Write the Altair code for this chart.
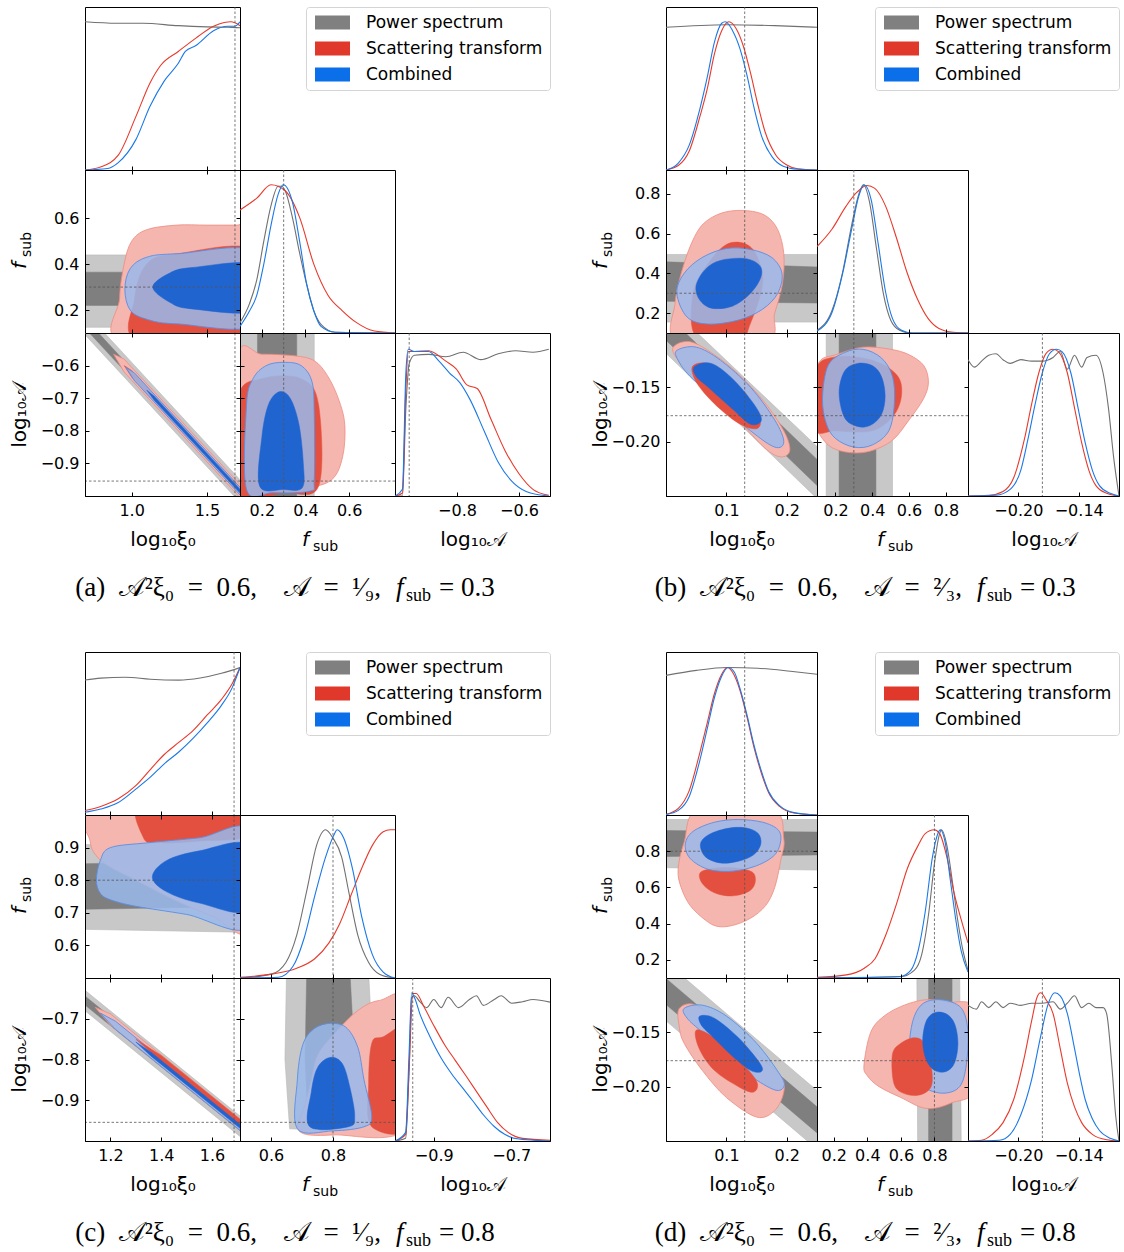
import altair as alt
import pandas as pd

FONT = "DejaVu Sans"
SERIF = "Liberation Serif"
SA = "\U0001D49C"  # script A
T_XI = "log\u2081\u2080\u03be\u2080"
T_LA = "log\u2081\u2080" + SA

GRAY_OUT, GRAY_IN = "#c8c8c8", "#7f7f7f"
RED_OUT, RED_IN = "#f4b6ae", "#e4503f"
BLUE_OUT, BLUE_IN = "#99b8eb", "#2064d0"
LINE_PS, LINE_ST, LINE_CO = "#707070", "#e8392b", "#1a78e8"
LEGEND_LABELS = ["Power spectrum", "Scattering transform", "Combined"]
LEGEND_COLORS = ["#808080", "#e0392b", "#0a6fe8"]
Y1D = [0.0, 1.1]

# ---------------- corner (a) ----------------
A_DOM = {"xi": [0.69, 1.72], "f": [0.10, 0.81], "la": [-1.00, -0.50]}
A_TICKS = {"xi": [1.0, 1.5], "f_y": [0.2, 0.4, 0.6], "f_x": [0.2, 0.4, 0.6],
           "la_y": [-0.6, -0.7, -0.8, -0.9], "la_x": [-0.8, -0.6]}
A_FMT = {"xi": ".1f", "f": ".1f", "la": ".1f"}
A_TRUTH = {"xi": 1.6866, "f": 0.3, "la": -0.9542}
A_XI_1D = {
    "ps": [(0.69, 1.0), (0.9, 0.99), (1.075, 0.99), (1.31, 0.974), (1.5, 0.966), (1.638, 0.963), (1.72, 0.96)],
    "st": [(0.69, 0.0), (0.793, 0.02), (0.911, 0.10), (1.028, 0.36), (1.122, 0.587), (1.192, 0.705), (1.31, 0.80),
           (1.427, 0.89), (1.544, 0.97), (1.615, 0.995), (1.66, 1.0), (1.72, 0.974)],
    "co": [(0.69, 0.0), (0.84, 0.01), (0.911, 0.05), (1.028, 0.205), (1.122, 0.43), (1.216, 0.60), (1.31, 0.72),
           (1.357, 0.80), (1.427, 0.84), (1.544, 0.94), (1.638, 0.97), (1.685, 0.97), (1.72, 1.0)],
}
A_F_1D = {
    "ps": [(0.1, 0.07), (0.144, 0.2), (0.177, 0.36), (0.209, 0.62), (0.242, 0.86), (0.275, 0.99), (0.29, 0.99),
           (0.307, 0.96), (0.34, 0.78), (0.373, 0.54), (0.405, 0.33), (0.438, 0.15), (0.471, 0.058), (0.536, 0.005),
           (0.81, 0.0)],
    "st": [(0.1, 0.83), (0.177, 0.91), (0.242, 1.0), (0.307, 0.96), (0.373, 0.78), (0.438, 0.465), (0.503, 0.255),
           (0.569, 0.15), (0.634, 0.07), (0.716, 0.013), (0.81, 0.0)],
    "co": [(0.1, 0.045), (0.144, 0.15), (0.177, 0.255), (0.209, 0.465), (0.242, 0.727), (0.275, 0.937), (0.298, 1.0),
           (0.34, 0.885), (0.373, 0.62), (0.405, 0.333), (0.438, 0.15), (0.471, 0.045), (0.536, 0.005), (0.81, 0.0)],
}
A_LA_1D = {
    "ps": [(-1.0, 0.0), (-0.976, 0.0), (-0.965, 0.59), (-0.954, 0.895), (-0.937, 0.95), (-0.892, 0.956),
           (-0.836, 0.94), (-0.78, 0.97), (-0.723, 0.92), (-0.667, 0.96), (-0.611, 0.98), (-0.555, 0.97),
           (-0.504, 0.99)],
    "st": [(-1.0, 0.0), (-0.976, 0.02), (-0.965, 0.725), (-0.957, 0.975), (-0.937, 0.975), (-0.892, 0.98),
           (-0.836, 0.91), (-0.802, 0.856), (-0.768, 0.75), (-0.735, 0.725), (-0.69, 0.516), (-0.645, 0.306),
           (-0.6, 0.15), (-0.555, 0.045), (-0.504, 0.005)],
    "co": [(-1.0, 0.0), (-0.976, 0.045), (-0.965, 0.83), (-0.957, 0.99), (-0.937, 0.975), (-0.892, 0.975),
           (-0.858, 0.91), (-0.824, 0.83), (-0.791, 0.765), (-0.757, 0.647), (-0.712, 0.437), (-0.667, 0.228),
           (-0.622, 0.097), (-0.577, 0.031), (-0.504, 0.0)],
}
A_XF_2D = {
    "g1": [(0.6, 0.125), (1.8, 0.125), (1.8, 0.44), (0.6, 0.44)],
    "g2": [(0.6, 0.22), (1.8, 0.22), (1.8, 0.365), (0.6, 0.365)],
    "r1": [(0.935, 0.06), (0.92, 0.25), (0.95, 0.40), (1.0, 0.50), (1.1, 0.55), (1.3, 0.57), (1.5, 0.57),
           (1.7, 0.57), (1.85, 0.57), (1.85, 0.06)],
    "r2": [(1.05, 0.06), (1.02, 0.25), (1.1, 0.40), (1.3, 0.445), (1.85, 0.45), (1.85, 0.06)],
    "b1": [(0.955, 0.29), (0.99, 0.38), (1.1, 0.43), (1.3, 0.445), (1.85, 0.45), (1.85, 0.14), (1.3, 0.14),
           (1.1, 0.16), (0.99, 0.2)],
    "b2": [(1.14, 0.30), (1.25, 0.36), (1.4, 0.385), (1.85, 0.395), (1.85, 0.2), (1.4, 0.205), (1.25, 0.235)],
}
A_XA_2D = {
    "g1": [(0.6, -0.39), (1.8, -0.99), (1.8, -1.06), (0.6, -0.46)],
    "g2": [(0.6, -0.41), (1.8, -1.01), (1.8, -1.04), (0.6, -0.44)],
    "r1": [(0.88, -0.565), (0.95, -0.58), (1.8, -1.005), (1.8, -1.045), (0.95, -0.62)],
    "r2": [(0.95, -0.6), (1.0, -0.615), (1.8, -1.015), (1.8, -1.035), (1.0, -0.635)],
    "b1": [(0.96, -0.605), (1.02, -0.623), (1.8, -1.013), (1.8, -1.037), (1.02, -0.647)],
    "b2": [(1.1, -0.675), (1.15, -0.694), (1.8, -1.019), (1.8, -1.031), (1.15, -0.706)],
}
A_FA_2D = {
    "g1": [(0.105, -0.49), (0.44, -0.49), (0.44, -1.01), (0.105, -1.01)],
    "g2": [(0.18, -0.49), (0.36, -0.49), (0.36, -1.0), (0.18, -1.0)],
    "r1": [(0.09, -0.97), (0.09, -0.57), (0.2, -0.565), (0.35, -0.57), (0.44, -0.585), (0.5, -0.63), (0.55, -0.7),
           (0.58, -0.78), (0.57, -0.88), (0.52, -0.95), (0.4, -0.975), (0.2, -0.98)],
    "r2": [(0.09, -0.99), (0.09, -0.70), (0.2, -0.64), (0.38, -0.64), (0.46, -0.72), (0.46, -0.97), (0.3, -0.99)],
    "b1": [(0.13, -0.98), (0.13, -0.72), (0.16, -0.64), (0.22, -0.6), (0.3, -0.59), (0.38, -0.6), (0.43, -0.65),
           (0.44, -0.75), (0.44, -0.95), (0.42, -0.985), (0.25, -0.99)],
    "b2": [(0.19, -0.97), (0.2, -0.82), (0.23, -0.72), (0.28, -0.68), (0.33, -0.7), (0.37, -0.78), (0.39, -0.9),
           (0.385, -0.975), (0.3, -0.98)],
}

# ---------------- corner (b) ----------------
B_DOM = {"xi": [0.0, 0.25], "f": [0.10, 0.92], "la": [-0.25, -0.10]}
B_TICKS = {"xi": [0.1, 0.2], "f_y": [0.2, 0.4, 0.6, 0.8], "f_x": [0.2, 0.4, 0.6, 0.8],
           "la_y": [-0.15, -0.20], "la_x": [-0.20, -0.14]}
B_FMT = {"xi": ".1f", "f": ".1f", "la": ".2f"}
B_TRUTH = {"xi": 0.1303, "f": 0.3, "la": -0.1761}
B_XI_1D = {
    "ps": [(0.0, 0.963), (0.1, 0.98), (0.18, 0.974), (0.25, 0.963)],
    "st": [(0.0, 0.0), (0.0204, 0.03), (0.0383, 0.126), (0.0563, 0.363), (0.0683, 0.547), (0.0802, 0.784),
           (0.0922, 0.94), (0.1042, 1.0), (0.116, 0.955), (0.128, 0.837), (0.14, 0.653), (0.152, 0.442),
           (0.164, 0.258), (0.182, 0.1), (0.2, 0.034), (0.218, 0.008), (0.25, 0.0)],
    "co": [(0.0, 0.0), (0.0204, 0.047), (0.0383, 0.166), (0.0563, 0.416), (0.0683, 0.626), (0.0802, 0.863),
           (0.0922, 0.99), (0.0982, 1.0), (0.110, 0.942), (0.122, 0.824), (0.134, 0.64), (0.146, 0.416),
           (0.158, 0.232), (0.176, 0.087), (0.194, 0.026), (0.218, 0.005), (0.25, 0.0)],
}
B_F_1D = {
    "ps": [(0.1, 0.018), (0.181, 0.15), (0.239, 0.41), (0.288, 0.727), (0.327, 0.937), (0.352, 1.0),
           (0.385, 0.885), (0.423, 0.57), (0.462, 0.255), (0.501, 0.084), (0.549, 0.018), (0.607, 0.0), (0.92, 0.0)],
    "st": [(0.1, 0.583), (0.181, 0.70), (0.259, 0.858), (0.317, 0.95), (0.371, 0.995), (0.414, 0.976),
           (0.472, 0.858), (0.53, 0.648), (0.588, 0.412), (0.646, 0.228), (0.704, 0.097), (0.762, 0.031),
           (0.84, 0.005), (0.92, 0.0)],
    "co": [(0.1, 0.013), (0.181, 0.137), (0.239, 0.40), (0.288, 0.70), (0.327, 0.924), (0.356, 1.0), (0.394, 0.9),
           (0.433, 0.596), (0.472, 0.28), (0.51, 0.097), (0.559, 0.018), (0.617, 0.0), (0.92, 0.0)],
}
B_LA_1D = {
    "ps": [(-0.25, 0.92), (-0.2436, 0.87), (-0.2365, 0.91), (-0.2294, 0.95), (-0.2223, 0.96), (-0.2152, 0.92),
           (-0.2081, 0.895), (-0.1975, 0.92), (-0.1868, 0.91), (-0.1762, 0.91), (-0.1655, 0.935), (-0.1584, 0.975),
           (-0.1513, 0.856), (-0.1442, 0.95), (-0.1371, 0.87), (-0.1318, 0.935), (-0.1229, 0.95), (-0.1158, 0.83),
           (-0.1105, 0.595), (-0.1052, 0.254), (-0.10, 0.0)],
    "st": [(-0.25, 0.0), (-0.2294, 0.005), (-0.2152, 0.031), (-0.2046, 0.123), (-0.1939, 0.385), (-0.1868, 0.62),
           (-0.1797, 0.83), (-0.1726, 0.961), (-0.1655, 0.99), (-0.1602, 0.974), (-0.1513, 0.83), (-0.1442, 0.595),
           (-0.1371, 0.36), (-0.13, 0.175), (-0.1229, 0.07), (-0.1123, 0.018), (-0.10, 0.0)],
    "co": [(-0.25, 0.0), (-0.2223, 0.005), (-0.2081, 0.045), (-0.1975, 0.175), (-0.1904, 0.385), (-0.1833, 0.62),
           (-0.1762, 0.83), (-0.1691, 0.96), (-0.162, 0.99), (-0.1566, 0.974), (-0.1478, 0.83), (-0.1407, 0.595),
           (-0.1336, 0.36), (-0.1265, 0.175), (-0.1194, 0.07), (-0.1087, 0.018), (-0.10, 0.0)],
}
B_XF_2D = {
    "g1": [(-0.02, 0.155), (0.27, 0.155), (0.27, 0.495), (-0.02, 0.495)],
    "g2": [(-0.02, 0.26), (0.27, 0.25), (0.27, 0.43), (-0.02, 0.46)],
    "r1": [(0.02, 0.06), (0.015, 0.25), (0.03, 0.45), (0.05, 0.6), (0.07, 0.67), (0.1, 0.71), (0.135, 0.715),
           (0.165, 0.69), (0.185, 0.62), (0.195, 0.5), (0.193, 0.35), (0.18, 0.2), (0.165, 0.06)],
    "r2": [(0.05, 0.08), (0.045, 0.3), (0.07, 0.45), (0.1, 0.545), (0.13, 0.55), (0.15, 0.49), (0.16, 0.35),
           (0.14, 0.15), (0.12, 0.06)],
    "b1": [(0.018, 0.3), (0.03, 0.4), (0.06, 0.48), (0.1, 0.525), (0.14, 0.52), (0.175, 0.48), (0.192, 0.4),
           (0.185, 0.3), (0.16, 0.22), (0.12, 0.165), (0.07, 0.145), (0.035, 0.18)],
    "b2": [(0.05, 0.34), (0.065, 0.42), (0.09, 0.465), (0.13, 0.475), (0.155, 0.44), (0.157, 0.38), (0.14, 0.3),
           (0.11, 0.235), (0.075, 0.225), (0.055, 0.27)],
}
B_XA_2D = {
    "g1": [(-0.02, -0.062), (0.27, -0.215), (0.27, -0.263), (-0.02, -0.108)],
    "g2": [(-0.02, -0.072), (0.27, -0.227), (0.27, -0.251), (-0.02, -0.096)],
    "r1": [(0.012, -0.113), (0.04, -0.108), (0.08, -0.12), (0.12, -0.138), (0.162, -0.163), (0.195, -0.19),
           (0.205, -0.208), (0.19, -0.214), (0.162, -0.205), (0.108, -0.173), (0.053, -0.145), (0.02, -0.125)],
    "r2": [(0.045, -0.13), (0.08, -0.13), (0.13, -0.155), (0.155, -0.178), (0.15, -0.188), (0.12, -0.183),
           (0.08, -0.165), (0.05, -0.145)],
    "b1": [(0.018, -0.116), (0.05, -0.113), (0.09, -0.125), (0.14, -0.15), (0.18, -0.18), (0.195, -0.2),
           (0.18, -0.205), (0.14, -0.19), (0.09, -0.165), (0.04, -0.14), (0.02, -0.125)],
    "b2": [(0.047, -0.131), (0.075, -0.128), (0.11, -0.142), (0.145, -0.165), (0.158, -0.18), (0.14, -0.184),
           (0.11, -0.17), (0.07, -0.15), (0.05, -0.14)],
}
B_FA_2D = {
    "g1": [(0.15, -0.09), (0.51, -0.09), (0.51, -0.26), (0.15, -0.26)],
    "g2": [(0.22, -0.09), (0.42, -0.09), (0.42, -0.26), (0.22, -0.26)],
    "r1": [(0.09, -0.14), (0.12, -0.125), (0.2, -0.12), (0.35, -0.113), (0.5, -0.115), (0.6, -0.12),
           (0.68, -0.13), (0.705, -0.145), (0.68, -0.16), (0.6, -0.18), (0.5, -0.2), (0.35, -0.21), (0.2, -0.207),
           (0.12, -0.195), (0.09, -0.18)],
    "r2": [(0.09, -0.135), (0.2, -0.122), (0.4, -0.125), (0.53, -0.138), (0.56, -0.155), (0.52, -0.175),
           (0.4, -0.19), (0.2, -0.19), (0.09, -0.188)],
    "b1": [(0.13, -0.16), (0.16, -0.13), (0.25, -0.118), (0.35, -0.115), (0.45, -0.123), (0.51, -0.14),
           (0.52, -0.165), (0.49, -0.19), (0.4, -0.203), (0.3, -0.205), (0.2, -0.197), (0.15, -0.183)],
    "b2": [(0.22, -0.155), (0.25, -0.135), (0.32, -0.128), (0.4, -0.13), (0.45, -0.14), (0.47, -0.158),
           (0.45, -0.175), (0.39, -0.185), (0.32, -0.186), (0.25, -0.178)],
}

# ---------------- corner (c) ----------------
C_DOM = {"xi": [1.10, 1.71], "f": [0.50, 1.00], "la": [-1.00, -0.60]}
C_TICKS = {"xi": [1.2, 1.4, 1.6], "f_y": [0.6, 0.7, 0.8, 0.9], "f_x": [0.6, 0.8],
           "la_y": [-0.7, -0.8, -0.9], "la_x": [-0.9, -0.7]}
C_FMT = {"xi": ".1f", "f": ".1f", "la": ".1f"}
C_TRUTH = {"xi": 1.6866, "f": 0.8, "la": -0.9542}
C_XI_1D = {
    "ps": [(1.1, 0.911), (1.1615, 0.924), (1.259, 0.93), (1.357, 0.916), (1.469, 0.91), (1.553, 0.924),
           (1.637, 0.956), (1.71, 0.995)],
    "st": [(1.1, 0.03), (1.1615, 0.058), (1.231, 0.11), (1.301, 0.2), (1.357, 0.307), (1.413, 0.41), (1.469, 0.49),
           (1.525, 0.57), (1.581, 0.675), (1.637, 0.78), (1.679, 0.885), (1.71, 0.995)],
    "co": [(1.1, 0.018), (1.1615, 0.04), (1.231, 0.084), (1.301, 0.176), (1.357, 0.255), (1.413, 0.347),
           (1.469, 0.425), (1.525, 0.517), (1.581, 0.622), (1.637, 0.74), (1.679, 0.858), (1.71, 0.995)],
}
C_F_1D = {
    "ps": [(0.5, 0.0), (0.601, 0.026), (0.648, 0.105), (0.683, 0.29), (0.717, 0.605), (0.747, 0.895), (0.776, 1.0),
           (0.799, 0.947), (0.828, 0.816), (0.851, 0.58), (0.88, 0.29), (0.915, 0.105), (0.95, 0.026), (1.0, 0.0)],
    "st": [(0.5, 0.005), (0.601, 0.026), (0.683, 0.066), (0.741, 0.13), (0.787, 0.237), (0.822, 0.368),
           (0.857, 0.553), (0.892, 0.737), (0.927, 0.895), (0.962, 0.987), (0.985, 1.0), (1.0, 1.0)],
    "co": [(0.5, 0.0), (0.624, 0.005), (0.671, 0.079), (0.706, 0.263), (0.741, 0.553), (0.776, 0.816),
           (0.805, 0.974), (0.813, 1.0), (0.834, 0.947), (0.863, 0.737), (0.892, 0.42), (0.927, 0.158),
           (0.962, 0.04), (1.0, 0.0)],
}
C_LA_1D = {
    "ps": [(-1.0, 0.0), (-0.9726, 0.018), (-0.9635, 0.49), (-0.957, 0.97), (-0.95, 0.98), (-0.936, 0.94),
           (-0.918, 0.9), (-0.9, 0.955), (-0.881, 0.9), (-0.863, 0.97), (-0.836, 0.9), (-0.808, 0.955),
           (-0.79, 0.98), (-0.772, 0.915), (-0.744, 0.955), (-0.726, 0.98), (-0.699, 0.93), (-0.671, 0.94),
           (-0.644, 0.955), (-0.6, 0.937)],
    "st": [(-1.0, 0.0), (-0.9726, 0.045), (-0.9635, 0.49), (-0.954, 0.995), (-0.945, 0.995), (-0.927, 0.915),
           (-0.9, 0.78), (-0.872, 0.65), (-0.845, 0.546), (-0.817, 0.44), (-0.79, 0.335), (-0.763, 0.23),
           (-0.735, 0.124), (-0.708, 0.058), (-0.671, 0.018), (-0.6, 0.005)],
    "co": [(-1.0, 0.0), (-0.9726, 0.058), (-0.9635, 0.6), (-0.957, 1.0), (-0.95, 0.97), (-0.936, 0.86),
           (-0.909, 0.70), (-0.881, 0.56), (-0.854, 0.454), (-0.826, 0.36), (-0.799, 0.27), (-0.772, 0.177),
           (-0.744, 0.098), (-0.717, 0.045), (-0.68, 0.013), (-0.6, 0.0)],
}
C_XF_2D = {
    "g1": [(1.05, 0.91), (1.4, 0.905), (1.75, 0.915), (1.75, 0.64), (1.4, 0.645), (1.05, 0.65)],
    "g2": [(1.05, 0.85), (1.75, 0.86), (1.75, 0.72), (1.05, 0.71)],
    "r1": [(1.12, 1.05), (1.12, 0.92), (1.15, 0.87), (1.2, 0.84), (1.3, 0.8), (1.45, 0.74), (1.6, 0.69),
           (1.75, 0.655), (1.75, 1.05)],
    "r2": [(1.33, 1.05), (1.33, 0.93), (1.4, 0.915), (1.55, 0.92), (1.75, 0.94), (1.75, 1.05)],
    "b1": [(1.145, 0.80), (1.16, 0.86), (1.2, 0.9), (1.35, 0.915), (1.55, 0.93), (1.75, 0.95), (1.75, 0.66),
           (1.5, 0.695), (1.3, 0.72), (1.2, 0.74), (1.16, 0.76)],
    "b2": [(1.365, 0.81), (1.42, 0.86), (1.55, 0.89), (1.75, 0.905), (1.75, 0.71), (1.55, 0.73), (1.42, 0.765)],
}
C_XA_2D = {
    "g1": [(1.05, -0.605), (1.75, -0.959), (1.75, -1.009), (1.05, -0.655)],
    "g2": [(1.05, -0.619), (1.75, -0.973), (1.75, -0.995), (1.05, -0.641)],
    "r1": [(1.14, -0.672), (1.2, -0.688), (1.75, -0.966), (1.75, -0.994), (1.2, -0.716)],
    "r2": [(1.3, -0.75), (1.4, -0.79), (1.75, -0.967), (1.75, -0.981), (1.4, -0.804)],
    "b1": [(1.16, -0.686), (1.22, -0.706), (1.75, -0.974), (1.75, -0.994), (1.22, -0.726)],
    "b2": [(1.3, -0.757), (1.36, -0.782), (1.75, -0.979), (1.75, -0.989), (1.36, -0.792)],
}
C_FA_2D = {
    "g1": [(0.65, -0.59), (0.915, -0.59), (0.93, -0.8), (0.92, -0.96), (0.8, -0.975), (0.66, -0.97), (0.645, -0.8)],
    "g2": [(0.715, -0.59), (0.855, -0.59), (0.87, -0.8), (0.86, -0.96), (0.72, -0.96), (0.71, -0.8)],
    "r1": [(1.05, -0.66), (0.95, -0.655), (0.88, -0.68), (0.8, -0.74), (0.75, -0.79), (0.73, -0.85), (0.71, -0.91),
           (0.69, -0.975), (0.8, -0.985), (1.05, -0.96)],
    "r2": [(0.925, -0.76), (0.96, -0.745), (1.05, -0.73), (1.05, -0.96), (0.925, -0.965), (0.915, -0.86)],
    "b1": [(0.685, -0.97), (0.685, -0.85), (0.7, -0.77), (0.73, -0.73), (0.78, -0.712), (0.84, -0.72),
           (0.88, -0.77), (0.9, -0.85), (0.925, -0.94), (0.9, -0.965), (0.8, -0.975)],
    "b2": [(0.725, -0.965), (0.73, -0.88), (0.75, -0.82), (0.79, -0.795), (0.83, -0.81), (0.855, -0.87),
           (0.87, -0.94), (0.85, -0.965)],
}

# ---------------- corner (d) ----------------
D_DOM = {"xi": [0.0, 0.25], "f": [0.10, 1.00], "la": [-0.25, -0.10]}
D_TICKS = {"xi": [0.1, 0.2], "f_y": [0.2, 0.4, 0.6, 0.8], "f_x": [0.2, 0.4, 0.6, 0.8],
           "la_y": [-0.15, -0.20], "la_x": [-0.20, -0.14]}
D_FMT = {"xi": ".1f", "f": ".1f", "la": ".2f"}
D_TRUTH = {"xi": 0.1303, "f": 0.8, "la": -0.1761}
D_XI_1D = {
    "ps": [(0.0, 0.942), (0.0503, 0.976), (0.1018, 0.995), (0.152, 0.99), (0.206, 0.97), (0.25, 0.95)],
    "st": [(0.0, 0.005), (0.0204, 0.045), (0.0383, 0.163), (0.0563, 0.425), (0.0683, 0.622), (0.0802, 0.82),
           (0.0922, 0.95), (0.1012, 0.995), (0.1102, 0.963), (0.1222, 0.845), (0.1341, 0.66), (0.1461, 0.45),
           (0.1581, 0.28), (0.17, 0.15), (0.188, 0.058), (0.212, 0.013), (0.25, 0.0)],
    "co": [(0.0, 0.003), (0.0204, 0.031), (0.0383, 0.123), (0.0563, 0.373), (0.0683, 0.583), (0.0802, 0.793),
           (0.0922, 0.937), (0.103, 0.995), (0.1132, 0.963), (0.1222, 0.858), (0.1341, 0.675), (0.1461, 0.465),
           (0.1581, 0.294), (0.17, 0.158), (0.188, 0.063), (0.212, 0.016), (0.25, 0.0)],
}
D_F_1D = {
    "ps": [(0.1, 0.0), (0.596, 0.008), (0.681, 0.053), (0.724, 0.158), (0.767, 0.447), (0.799, 0.763),
           (0.831, 0.974), (0.841, 1.0), (0.874, 0.895), (0.906, 0.658), (0.938, 0.395), (0.97, 0.184), (1.0, 0.053)],
    "st": [(0.1, 0.005), (0.275, 0.021), (0.382, 0.066), (0.446, 0.13), (0.51, 0.29), (0.574, 0.5), (0.638, 0.737),
           (0.703, 0.895), (0.745, 0.974), (0.799, 1.0), (0.831, 0.974), (0.874, 0.816), (0.916, 0.58),
           (0.959, 0.395), (1.0, 0.237)],
    "co": [(0.1, 0.0), (0.596, 0.01), (0.66, 0.053), (0.703, 0.184), (0.745, 0.447), (0.788, 0.816), (0.82, 0.974),
           (0.835, 1.0), (0.863, 0.92), (0.895, 0.658), (0.927, 0.395), (0.959, 0.184), (1.0, 0.04)],
}
D_LA_1D = {
    "ps": [(-0.25, 0.915), (-0.2418, 0.89), (-0.2365, 0.94), (-0.2294, 0.9), (-0.2223, 0.94), (-0.2152, 0.9),
           (-0.2081, 0.93), (-0.1975, 0.915), (-0.1868, 0.93), (-0.1762, 0.93), (-0.1655, 0.94), (-0.1584, 0.89),
           (-0.1513, 0.93), (-0.1442, 0.98), (-0.1371, 0.9), (-0.13, 0.93), (-0.1229, 0.9), (-0.1158, 0.9),
           (-0.1123, 0.86), (-0.1069, 0.49), (-0.1034, 0.177), (-0.10, 0.0)],
    "st": [(-0.25, 0.0), (-0.2365, 0.005), (-0.2259, 0.045), (-0.2152, 0.124), (-0.2046, 0.28), (-0.1939, 0.57),
           (-0.1868, 0.81), (-0.1815, 0.968), (-0.1779, 1.0), (-0.1726, 0.955), (-0.1655, 0.86), (-0.1584, 0.625),
           (-0.1513, 0.39), (-0.1442, 0.23), (-0.1371, 0.124), (-0.1265, 0.045), (-0.1123, 0.008), (-0.10, 0.0)],
    "co": [(-0.25, 0.0), (-0.2188, 0.005), (-0.2081, 0.045), (-0.1975, 0.177), (-0.1868, 0.414), (-0.1779, 0.704),
           (-0.1708, 0.915), (-0.1637, 1.0), (-0.1584, 0.98), (-0.1513, 0.86), (-0.1442, 0.625), (-0.1389, 0.44),
           (-0.1336, 0.28), (-0.1265, 0.15), (-0.1194, 0.071), (-0.1087, 0.018), (-0.10, 0.0)],
}
D_XF_2D = {
    "g1": [(-0.02, 0.975), (0.27, 0.975), (0.27, 0.695), (-0.02, 0.71)],
    "g2": [(-0.02, 0.915), (0.27, 0.905), (0.27, 0.78), (-0.02, 0.77)],
    "r1": [(0.055, 1.04), (0.03, 0.85), (0.02, 0.7), (0.025, 0.6), (0.04, 0.5), (0.065, 0.42), (0.085, 0.385),
           (0.11, 0.39), (0.14, 0.43), (0.165, 0.5), (0.18, 0.6), (0.19, 0.75), (0.195, 0.87), (0.175, 1.04)],
    "r2": [(0.06, 0.69), (0.057, 0.64), (0.07, 0.59), (0.09, 0.56), (0.115, 0.555), (0.14, 0.585), (0.148, 0.64),
           (0.14, 0.69), (0.1, 0.71)],
    "b1": [(0.032, 0.84), (0.045, 0.91), (0.08, 0.96), (0.12, 0.975), (0.16, 0.96), (0.185, 0.92), (0.19, 0.86),
           (0.18, 0.78), (0.15, 0.72), (0.11, 0.69), (0.07, 0.7), (0.04, 0.76)],
    "b2": [(0.057, 0.84), (0.07, 0.89), (0.1, 0.925), (0.13, 0.93), (0.152, 0.9), (0.157, 0.84), (0.145, 0.78),
           (0.12, 0.745), (0.09, 0.735), (0.065, 0.77)],
}
D_XA_2D = {
    "g1": [(-0.02, -0.076), (0.27, -0.213), (0.27, -0.267), (-0.02, -0.130)],
    "g2": [(-0.02, -0.091), (0.27, -0.228), (0.27, -0.252), (-0.02, -0.115)],
    "r1": [(0.022, -0.128), (0.05, -0.125), (0.1, -0.146), (0.15, -0.17), (0.19, -0.19), (0.195, -0.205),
           (0.18, -0.222), (0.15, -0.228), (0.1, -0.21), (0.06, -0.185), (0.03, -0.16), (0.022, -0.145)],
    "r2": [(0.05, -0.148), (0.08, -0.155), (0.12, -0.175), (0.15, -0.195), (0.145, -0.205), (0.12, -0.2),
           (0.08, -0.185), (0.055, -0.165)],
    "b1": [(0.03, -0.128), (0.06, -0.125), (0.1, -0.135), (0.15, -0.16), (0.19, -0.19), (0.195, -0.2),
           (0.18, -0.203), (0.14, -0.19), (0.1, -0.17), (0.06, -0.15), (0.035, -0.137)],
    "b2": [(0.056, -0.135), (0.08, -0.137), (0.12, -0.155), (0.155, -0.178), (0.158, -0.186), (0.14, -0.185),
           (0.11, -0.172), (0.075, -0.153), (0.058, -0.143)],
}
D_FA_2D = {
    "g1": [(0.695, -0.09), (0.95, -0.09), (0.96, -0.26), (0.7, -0.26)],
    "g2": [(0.765, -0.09), (0.905, -0.09), (0.905, -0.26), (0.765, -0.26)],
    "r1": [(0.38, -0.18), (0.42, -0.15), (0.5, -0.135), (0.62, -0.125), (0.75, -0.12), (0.88, -0.122),
           (1.05, -0.13), (1.05, -0.2), (0.9, -0.215), (0.75, -0.22), (0.6, -0.21), (0.47, -0.2), (0.4, -0.19)],
    "r2": [(0.55, -0.17), (0.6, -0.16), (0.68, -0.155), (0.74, -0.16), (0.78, -0.18), (0.78, -0.2), (0.7, -0.208),
           (0.6, -0.205), (0.555, -0.195)],
    "b1": [(0.65, -0.165), (0.67, -0.14), (0.72, -0.125), (0.8, -0.12), (0.9, -0.122), (0.97, -0.13), (1.0, -0.15),
           (0.99, -0.18), (0.95, -0.2), (0.85, -0.206), (0.73, -0.2), (0.67, -0.185)],
    "b2": [(0.73, -0.158), (0.75, -0.14), (0.8, -0.132), (0.87, -0.133), (0.92, -0.142), (0.94, -0.16),
           (0.92, -0.178), (0.87, -0.186), (0.8, -0.185), (0.75, -0.175)],
}

# ---------------- helpers ----------------
H = 163
GAP = 116
CAP_H1, CAP_H2 = 156, 108
TICK = alt.ExprRef(expr="-4")
NOFRAME = alt.ViewBackground(strokeOpacity=0)
STYLE = {
    "g1": dict(fill=GRAY_OUT, stroke="#b8b8b8", sw=0.6, op=1.0),
    "g2": dict(fill=GRAY_IN, stroke=GRAY_IN, sw=0.5, op=1.0),
    "r1": dict(fill=RED_OUT, stroke="#ee8c80", sw=0.8, op=1.0),
    "r2": dict(fill=RED_IN, stroke=RED_IN, sw=0.5, op=1.0),
    "b1": dict(fill=BLUE_OUT, stroke="#5b8de3", sw=0.9, op=0.85),
    "b2": dict(fill=BLUE_IN, stroke=BLUE_IN, sw=0.5, op=1.0),
}


def sc(dom):
    return alt.Scale(domain=list(dom), nice=False, zero=False)


def ax(orient, values, fmt, labels, **kw):
    base = dict(orient=orient, values=values, format=fmt, labels=labels, grid=False, ticks=True,
                tickSize=TICK, tickColor="black", tickWidth=1, domain=True, domainColor="black",
                domainWidth=1, labelFont=FONT, labelFontSize=16, labelColor="black", labelPadding=10,
                labelOverlap=False, labelFlush=False, zindex=1, title="", titleFont=FONT,
                titleFontSize=20, titleFontWeight="normal", titleColor="black")
    base.update(kw)
    return alt.Axis(**base)


def lay(layers, W):
    return alt.layer(*layers).resolve_axis(x="independent", y="independent").properties(width=W, height=H)


def blank(W, h):
    return alt.Chart(pd.DataFrame({"t": [""]})).mark_text().encode(text="t:N").properties(
        width=W, height=h, view=NOFRAME)


def poly_layer(pts, key, xdom, ydom, interp):
    s = STYLE[key]
    df = pd.DataFrame({"x": [p[0] for p in pts], "y": [p[1] for p in pts], "o": list(range(len(pts)))})
    return alt.Chart(df).mark_line(interpolate=interp, fill=s["fill"], fillOpacity=s["op"], stroke=s["stroke"],
                                   strokeWidth=s["sw"], clip=True).encode(
        x=alt.X("x:Q", scale=sc(xdom), axis=None),
        y=alt.Y("y:Q", scale=sc(ydom), axis=None),
        order=alt.Order("o:Q"))


def vrule(v, dom):
    return alt.Chart(pd.DataFrame({"v": [v]})).mark_rule(color="#555555", strokeDash=[2.5, 2],
                                                         strokeWidth=0.8).encode(
        x=alt.X("v:Q", scale=sc(dom), axis=None))


def hrule(v, dom):
    return alt.Chart(pd.DataFrame({"v": [v]})).mark_rule(color="#555555", strokeDash=[2.5, 2],
                                                         strokeWidth=0.8).encode(
        y=alt.Y("v:Q", scale=sc(dom), axis=None))


def panel_1d(xdom, curves, truth, ticks, fmt, W, labels, bottom_kw):
    layers = []
    for key, col in (("ps", LINE_PS), ("st", LINE_ST), ("co", LINE_CO)):
        pts = curves[key]
        df = pd.DataFrame({"x": [p[0] for p in pts], "y": [p[1] for p in pts]})
        layers.append(alt.Chart(df).mark_line(interpolate="monotone", color=col, strokeWidth=1.1,
                                              clip=True).encode(
            x=alt.X("x:Q", scale=sc(xdom), axis=None), y=alt.Y("y:Q", scale=sc(Y1D), axis=None)))
    layers.append(vrule(truth, xdom))
    layers.append(alt.Chart(pd.DataFrame({"x": [xdom[0]]})).mark_point(opacity=0).encode(
        x=alt.X("x:Q", scale=sc(xdom), axis=ax("bottom", ticks, fmt, labels, **bottom_kw))))
    return lay(layers, W)


def panel_2d(xdom, ydom, polys, linear, r2top, tx, ty, xt, yt, fx, fy, W, xlab, ylab,
             bottom_kw, left_kw, top_kw, right_kw):
    order = ["g1", "g2", "r1"] + ([] if r2top else ["r2"]) + ["b1"] + (["r2"] if r2top else []) + ["b2"]
    layers = []
    for k in order:
        interp = "linear-closed" if (k.startswith("g") or linear) else "cardinal-closed"
        layers.append(poly_layer(polys[k], k, xdom, ydom, interp))
    layers.append(vrule(tx, xdom))
    layers.append(hrule(ty, ydom))
    pt = pd.DataFrame({"x": [xdom[0]], "y": [ydom[0]]})
    layers.append(alt.Chart(pt).mark_point(opacity=0).encode(
        x=alt.X("x:Q", scale=sc(xdom), axis=ax("bottom", xt, fx, xlab, **bottom_kw)),
        y=alt.Y("y:Q", scale=sc(ydom), axis=ax("left", yt, fy, ylab, **left_kw))))
    layers.append(alt.Chart(pt).mark_point(opacity=0).encode(
        x=alt.X("x:Q", scale=sc(xdom), axis=ax("top", xt, fx, False, **top_kw)),
        y=alt.Y("y:Q", scale=sc(ydom), axis=ax("right", yt, fy, False, **right_kw))))
    return lay(layers, W)


def legend_chart(W, lx):
    df = pd.DataFrame({"label": LEGEND_LABELS})
    return alt.Chart(df).mark_square(size=4).encode(
        x=alt.value(lx + 120), y=alt.value(40),
        color=alt.Color("label:N", sort=LEGEND_LABELS,
                        scale=alt.Scale(domain=LEGEND_LABELS, range=LEGEND_COLORS),
                        legend=alt.Legend(title=None, orient="none", legendX=lx, legendY=0,
                                          direction="vertical", labelFont=FONT, labelFontSize=17,
                                          labelColor="black", labelLimit=400,
                                          symbolType="M-2.5,-1L2.5,-1L2.5,1L-2.5,1Z", symbolSize=196,
                                          symbolStrokeWidth=0, symbolOpacity=1, symbolOffset=11,
                                          labelOffset=25, rowPadding=8, padding=7,
                                          strokeColor="#d4d4d4", fillColor="white", cornerRadius=3))
    ).properties(width=W, height=H, view=NOFRAME)


def caption_chart(W, h, letter, frac, fval):
    def txt(s, x, y, size, style, align):
        return alt.Chart(pd.DataFrame({"t": [s]})).mark_text(
            align=align, baseline="alphabetic", font=SERIF, fontSize=size, fontStyle=style,
            color="black").encode(x=alt.value(x), y=alt.value(y), text="t:N")
    y0 = 100
    en, em = "\u2002", "\u2003"
    main = ("(" + letter + ")" + en + SA + "\u00b2\u03be\u2080" + en + "=" + en + "0.6," + em + SA + en + "="
            + en + frac + ",")
    layers = [
        txt(main, 296, y0, 27, "normal", "right"),
        txt("f", 311, y0, 27, "italic", "left"),
        txt("sub", 321, y0 + 5, 18, "normal", "left"),
        txt("= " + fval, 354, y0, 27, "normal", "left"),
    ]
    return alt.layer(*layers).properties(width=W, height=h, view=NOFRAME)


def corner_cells(W, cap_h, letter, frac, fval, dom, ticks, fmt, truth, xi1d, f1d, la1d, xf, xa, fa,
                 xa_linear, r2top):
    bt_xi = dict(title=T_XI, titleX=W / 2, titleY=49, titleAlign="center", titleBaseline="alphabetic",
                 titleAngle=0)
    bt_la = dict(title=T_LA, titleX=W / 2, titleY=49, titleAlign="center", titleBaseline="alphabetic",
                 titleAngle=0)
    bt_f = dict(title="f", titleFontStyle="italic", titleX=W / 2 - 16, titleY=49, titleAlign="left",
                titleBaseline="alphabetic", titleAngle=0)
    tp_sub = dict(title="sub", titleFontSize=14, titleX=W / 2 - 5, titleY=H + 54, titleAlign="left",
                  titleBaseline="alphabetic", titleAngle=0)
    lt_la = dict(title=T_LA, titleX=-60, titleY=H / 2, titleAngle=270, titleAlign="center",
                 titleBaseline="alphabetic")
    lt_f = dict(title="f", titleFontStyle="italic", titleX=-60, titleY=H / 2 + 17, titleAngle=270,
                titleAlign="left", titleBaseline="alphabetic")
    rt_sub = dict(title="sub", titleFontSize=14, titleX=-W - 55, titleY=H / 2 + 5, titleAngle=270,
                  titleAlign="left", titleBaseline="alphabetic")

    p11 = panel_1d(dom["xi"], xi1d, truth["xi"], ticks["xi"], fmt["xi"], W, False, {})
    leg = legend_chart(W, 2 * W - 244)
    p21 = panel_2d(dom["xi"], dom["f"], xf, False, "xf" in r2top, truth["xi"], truth["f"], ticks["xi"],
                   ticks["f_y"], fmt["xi"], fmt["f"], W, False, True, {}, lt_f, {}, rt_sub)
    p22 = panel_1d(dom["f"], f1d, truth["f"], ticks["f_x"], fmt["f"], W, False, {})
    p31 = panel_2d(dom["xi"], dom["la"], xa, xa_linear, "xa" in r2top, truth["xi"], truth["la"], ticks["xi"],
                   ticks["la_y"], fmt["xi"], fmt["la"], W, True, True, bt_xi, lt_la, {}, {})
    p32 = panel_2d(dom["f"], dom["la"], fa, False, "fa" in r2top, truth["f"], truth["la"], ticks["f_x"],
                   ticks["la_y"], fmt["f"], fmt["la"], W, True, False, bt_f, {}, tp_sub, {})
    p33 = panel_1d(dom["la"], la1d, truth["la"], ticks["la_x"], fmt["la"], W, True, bt_la)
    cap = caption_chart(W, cap_h, letter, frac, fval)
    return [
        [p11, leg, blank(W, H)],
        [p21, p22, blank(W, H)],
        [p31, p32, p33],
        [cap, blank(W, cap_h), blank(W, cap_h)],
    ]


cA = corner_cells(155, CAP_H1, "a", "\u00b9\u2044\u2089", "0.3", A_DOM, A_TICKS, A_FMT, A_TRUTH, A_XI_1D,
                  A_F_1D, A_LA_1D, A_XF_2D, A_XA_2D, A_FA_2D, True, set())
cB = corner_cells(151, CAP_H1, "b", "\u00b2\u2044\u2083", "0.3", B_DOM, B_TICKS, B_FMT, B_TRUTH, B_XI_1D,
                  B_F_1D, B_LA_1D, B_XF_2D, B_XA_2D, B_FA_2D, False, {"xa"})
cC = corner_cells(155, CAP_H2, "c", "\u00b9\u2044\u2089", "0.8", C_DOM, C_TICKS, C_FMT, C_TRUTH, C_XI_1D,
                  C_F_1D, C_LA_1D, C_XF_2D, C_XA_2D, C_FA_2D, True, {"xa"})
cD = corner_cells(151, CAP_H2, "d", "\u00b2\u2044\u2083", "0.8", D_DOM, D_TICKS, D_FMT, D_TRUTH, D_XI_1D,
                  D_F_1D, D_LA_1D, D_XF_2D, D_XA_2D, D_FA_2D, False, {"xa", "fa"})

cells = []
for left, right, caph in ((cA, cB, CAP_H1), (cC, cD, CAP_H2)):
    for r in range(4):
        h = H if r < 3 else caph
        cells.extend(left[r])
        cells.append(blank(GAP, h))
        cells.extend(right[r])

chart = alt.concat(*cells, columns=7, spacing=0, bounds="flush").resolve_scale(
    color="independent").resolve_legend(color="independent").properties(
    padding={"left": 8, "top": 6, "right": 0, "bottom": 0}, background="white"
).configure_view(stroke="black", strokeWidth=1)

chart.save("out.html", embed_options={"renderer": "svg", "actions": False})
